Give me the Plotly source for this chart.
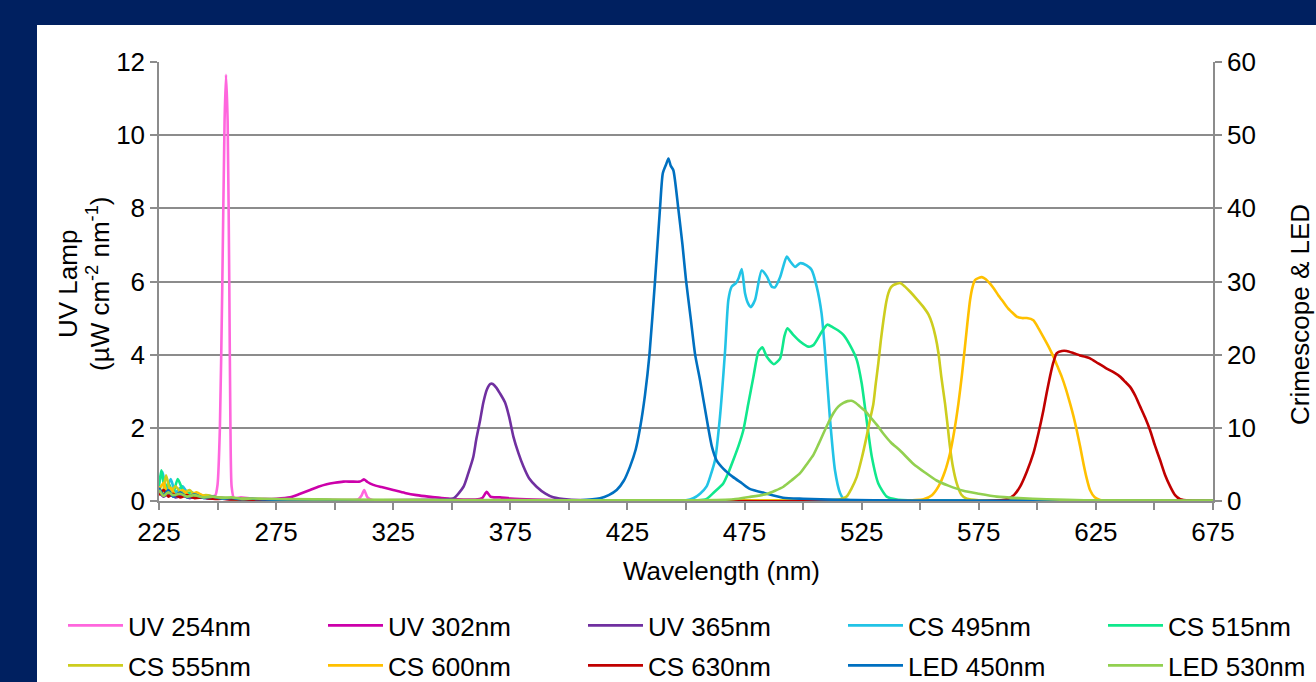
import plotly.graph_objects as go

# ---------------- data ----------------
# UV lamps (left axis, µW cm-2 nm-1)
uv254_wl = [225, 227, 229, 231, 234, 237, 240, 243, 246, 249, 250, 251, 252, 253, 253.6, 254.3, 255, 255.5, 256, 257,
            260, 265, 270, 280, 300, 310, 311.5, 312.6, 314, 316, 330, 360, 400, 675]
uv254_val = [0.35, 0.2, 0.3, 0.15, 0.22, 0.12, 0.18, 0.1, 0.12, 0.15, 0.45, 2.0, 5.8, 10.4, 11.65, 10.4, 6.0, 2.0, 0.4, 0.08,
             0.1, 0.06, 0.05, 0.03, 0.03, 0.04, 0.15, 0.3, 0.1, 0.03, 0.02, 0.02, 0.01, 0.0]

uv302_wl = [225, 227, 229, 232, 235, 238, 242, 246, 250, 255, 260, 265, 270, 275, 281, 285, 289.5, 293, 296.6, 300,
            303.7, 307, 310.8, 312.6, 314, 316.5, 320, 325, 330, 335, 340, 345, 350.7, 355, 360, 363, 364.9, 366.5,
            368, 370.6, 375, 385, 400, 450, 675]
uv302_val = [0.3, 0.15, 0.25, 0.12, 0.18, 0.1, 0.14, 0.08, 0.1, 0.06, 0.07, 0.05, 0.05, 0.06, 0.1, 0.19, 0.3, 0.39, 0.46, 0.5,
             0.53, 0.53, 0.53, 0.59, 0.52, 0.44, 0.38, 0.3, 0.22, 0.16, 0.12, 0.09, 0.05, 0.04, 0.04, 0.08, 0.25, 0.12,
             0.1, 0.1, 0.07, 0.04, 0.02, 0.01, 0.0]

uv365_wl = [225, 227, 229, 232, 235, 238, 242, 246, 250, 255, 260, 270, 290, 320, 340, 345, 350.7, 355, 357, 359.2,
            360.5, 362.1, 363.5, 365, 366.5, 367.5, 369, 370.5, 372.7, 374.5, 376.3, 378.5, 380.6, 383, 386.2, 390,
            393.3, 400, 420, 675]
uv365_val = [0.25, 0.12, 0.2, 0.1, 0.15, 0.08, 0.12, 0.06, 0.08, 0.05, 0.05, 0.03, 0.02, 0.02, 0.03, 0.04, 0.07, 0.39, 0.75, 1.21,
             1.7, 2.21, 2.7, 3.05, 3.2, 3.2, 3.1, 2.95, 2.7, 2.3, 1.76, 1.3, 0.94, 0.62, 0.39, 0.2,
             0.1, 0.04, 0.01, 0.0]

# Crimescope & LED (right axis, µW cm-2 nm-1)
cs495_wl = [225, 226.5, 228, 230, 232, 235, 238, 241, 245, 250, 255, 260, 270, 300, 400, 450, 453.1, 456, 458.8, 460.5,
            462.4, 464.5, 466.7, 468.1, 469.5, 471.4, 472.4, 473.8, 475.2, 476.5, 477.7, 479.5, 482.3, 484.5, 486.6,
            488, 490.2, 493, 494.4, 496.6, 498.7, 501.5, 503.6, 505.8, 507.9, 509.4, 511.5, 513.6, 515.8, 517.2, 520, 675]
cs495_val = [2.5, 4.0, 1.5, 3.0, 1.2, 2.0, 0.8, 1.0, 0.6, 0.5, 0.4, 0.3, 0.2, 0.1, 0.1, 0.1, 0.37, 1.0, 2.0, 3.5,
             5.6, 11.5, 20.6, 27.5, 29.3, 29.8, 30.4, 31.7, 28.4, 27.0, 26.5, 27.5, 31.5, 30.7, 29.3,
             29.2, 30.6, 33.4, 32.8, 32.0, 32.5, 32.2, 31.6, 29.3, 25.6, 20.2, 11.1, 4.2, 1.05, 0.35, 0.1, 0.0]

cs515_wl = [225, 226, 227.5, 229, 231, 233, 236, 239, 242, 246, 250, 255, 260, 270, 300, 400, 455, 458.8, 462, 465.9,
            468, 470.2, 472.5, 474.5, 476.6, 478.8, 480.9, 482.6, 484.5, 487.5, 490.2, 492, 493.3, 495.8, 498.7,
            502.2, 504.4, 507.9, 510.3, 512.9, 515, 517.2, 520, 522.9, 525, 527.1, 529.3, 532.1, 535.7, 540, 550, 675]
cs515_val = [2.0, 4.2, 1.5, 2.5, 1.0, 3.0, 1.0, 1.2, 0.6, 0.7, 0.4, 0.3, 0.2, 0.15, 0.1, 0.1, 0.1, 0.3, 1.2, 2.4,
             3.8, 5.6, 7.6, 9.7, 13.3, 17.0, 20.4, 21.0, 19.7, 18.7, 19.5, 22.5, 23.6, 22.7, 21.8,
             21.1, 21.3, 23.1, 24.1, 23.7, 23.3, 22.7, 21.3, 19.3, 16.1, 11.1, 6.1, 2.4, 0.6, 0.2, 0.05, 0.0]

cs555_wl = [225, 226.5, 228, 230, 232, 235, 238, 241, 245, 250, 255, 260, 270, 300, 400, 510, 515.8, 518.6, 520.5, 522.9,
            525, 527.1, 528.5, 530, 531, 532.1, 533.2, 534.3, 535.5, 536.4, 537.5, 538.5, 540, 541.4, 543.5, 545.7,
            548.5, 551.4, 553.5, 555, 556.5, 557.8, 559, 560.6, 561.7, 562.7, 564, 565.6, 567.5, 569.9, 575, 675]
cs555_val = [2.0, 1.0, 3.5, 1.2, 2.0, 1.0, 1.5, 0.6, 0.8, 0.5, 0.4, 0.3, 0.2, 0.1, 0.1, 0.1, 0.25, 0.6, 1.6, 3.3,
             5.8, 8.8, 11.0, 13.3, 16.0, 18.8, 22.0, 24.7, 27.2, 28.4, 29.2, 29.5, 29.7, 29.8, 29.3, 28.6,
             27.6, 26.5, 25.5, 24.3, 22.5, 20.2, 17.0, 13.3, 10.3, 7.4, 4.6, 2.4, 0.9, 0.3, 0.1, 0.0]

cs600_wl = [225, 227, 228.5, 230, 232, 235, 238, 241, 245, 250, 255, 260, 270, 300, 400, 540, 551.4, 555, 557.8, 560.5,
            562.7, 564.5, 566.3, 567.8, 569.1, 570.2, 571.3, 572.3, 573.4, 575, 576.3, 578, 579.8, 581.5, 583.4,
            585.5, 587.6, 589.5, 591.2, 593.5, 595.5, 598.3, 600.5, 602.6, 604.8, 606.9, 608.6, 610.4, 612.2, 614,
            615.5, 616.8, 618.3, 619.7, 621, 622.5, 624.5, 626.8, 632, 675]
cs600_val = [1.5, 2.5, 1.0, 1.8, 0.8, 1.5, 0.7, 1.2, 0.5, 0.4, 0.3, 0.25, 0.2, 0.1, 0.1, 0.05, 0.25, 0.8, 2.0, 4.0,
             6.5, 9.5, 13.3, 17.2, 21.1, 24.5, 27.5, 29.2, 30.2, 30.5, 30.6, 30.3, 29.7, 29.0, 28.1,
             27.2, 26.3, 25.7, 25.2, 25.0, 25.0, 24.7, 23.6, 22.4, 21.1, 19.7, 18.4, 17.0, 15.3, 13.3,
             11.5, 9.7, 7.4, 5.1, 3.2, 1.5, 0.5, 0.15, 0.05, 0.0]

cs630_wl = [225, 227, 229, 231, 234, 237, 240, 244, 248, 252, 256, 260, 270, 300, 400, 580, 587, 590, 592.7, 595.5,
            598.3, 600.5, 602.6, 604, 605.4, 606.8, 608.3, 610.5, 612.5, 615.5, 618.2, 620.5, 622.5, 626, 629.6,
            632.5, 635.3, 637.5, 639.6, 641.8, 643.9, 646, 648.1, 650.2, 652.4, 654.5, 656.7, 658.8, 661, 665, 675]
cs630_val = [0.8, 1.5, 0.6, 1.0, 0.5, 0.8, 0.4, 0.5, 0.3, 0.3, 0.2, 0.2, 0.15, 0.1, 0.05, 0.02, 0.25, 0.8, 2.0, 4.0,
             6.5, 9.3, 12.4, 14.8, 17.0, 18.9, 20.2, 20.5, 20.5, 20.2, 19.9, 19.7, 19.5, 18.8, 18.1,
             17.6, 17.0, 16.3, 15.6, 14.4, 12.9, 11.4, 9.7, 7.6, 5.6, 3.6, 2.0, 0.8, 0.25, 0.05, 0.0]

led450_wl = [225, 227, 229, 231, 234, 237, 240, 244, 248, 252, 256, 260, 265, 270, 280, 300, 350, 390, 404.8, 413.3,
             417, 420.4, 423.5, 426.1, 428.5, 430.4, 432.5, 434.4, 436.8, 438.9, 440.1, 441.5, 442.5, 443.5, 444.6,
             446.7, 448.5, 450, 452, 453.9, 456, 459.5, 461, 463, 466, 470, 474, 477, 484.5, 491.4, 500, 515,
             530, 560, 675]
led450_val = [1.8, 0.8, 1.5, 0.6, 1.2, 0.5, 0.9, 0.4, 0.6, 0.3, 0.4, 0.25, 0.3, 0.2, 0.15, 0.1, 0.1, 0.1, 0.1, 0.37,
              0.8, 1.5, 2.8, 4.7, 7.0, 10.0, 14.5, 20.0, 30.2, 40.0, 44.8, 46.0, 46.8, 45.8, 45.2,
              40.0, 35.0, 30.2, 25.0, 20.0, 16.5, 10.0, 7.5, 5.6, 4.4, 3.3, 2.4, 1.7, 1.0, 0.45, 0.3, 0.15,
              0.1, 0.05, 0.0]

led530_wl = [225, 227, 229, 231, 234, 237, 240, 244, 248, 252, 256, 260, 265, 270, 280, 300, 400, 455, 470.2, 477,
             484.5, 488, 491.6, 495, 498.7, 501.5, 504.4, 506.5, 508.6, 510.8, 512.9, 515, 517.2, 519, 520.7, 522.5,
             524.3, 526.5, 528.6, 531.5, 534.3, 537.5, 541.4, 547, 552, 557, 562, 568.4, 575, 582.7, 592, 604, 620, 675]
led530_val = [1.5, 0.7, 1.2, 0.8, 1.0, 0.6, 0.8, 0.5, 0.6, 0.4, 0.5, 0.3, 0.35, 0.3, 0.25, 0.2, 0.1, 0.1, 0.23, 0.55,
              0.96, 1.4, 1.95, 2.8, 3.8, 5.0, 6.3, 7.7, 9.2, 10.7, 12.0, 12.9, 13.4, 13.65, 13.7, 13.4,
              12.9, 12.3, 11.5, 10.4, 9.2, 8.0, 6.9, 5.1, 3.9, 2.8, 2.1, 1.4, 1.0, 0.6, 0.4, 0.23, 0.1, 0.05]

x_tickvals = [225, 275, 325, 375, 425, 475, 525, 575, 625, 675]
x_ticktext = ["225", "275", "325", "375", "425", "475", "525", "575", "625", "675"]

series_names = ["UV 254nm", "UV 302nm", "UV 365nm", "CS 495nm", "CS 515nm",
                "CS 555nm", "CS 600nm", "CS 630nm", "LED 450nm", "LED 530nm"]
series_wl = [uv254_wl, uv302_wl, uv365_wl, cs495_wl, cs515_wl, cs555_wl, cs600_wl, cs630_wl, led450_wl, led530_wl]
series_val = [uv254_val, uv302_val, uv365_val, cs495_val, cs515_val, cs555_val, cs600_val, cs630_val, led450_val, led530_val]
series_axis = ["y", "y", "y", "y2", "y2", "y2", "y2", "y2", "y2", "y2"]
series_color = ["#FF66DD", "#CC00AA", "#7030A0", "#22C3E6", "#10E88C",
                "#CDCD1E", "#FFC000", "#C00000", "#0070C0", "#92D050"]

# ---------------- figure ----------------
W, H = 1316, 682
L, R, T, B = 159, 103, 62, 181
PW, PH = W - L - R, H - T - B


def px_x(px):
    return (px - L) / PW


def px_y(py):
    return (H - B - py) / PH


FONT = "Liberation Sans, Arial, sans-serif"
GRID = "#8C8C8C"

fig = go.Figure()
legend_layouts = {}
for i, (name, wl, val, yax, color) in enumerate(zip(series_names, series_wl, series_val, series_axis, series_color)):
    leg = "legend" if i == 0 else f"legend{i + 1}"
    fig.add_trace(go.Scatter(
        x=wl, y=val, name=name, mode="lines", yaxis=yax, legend=leg,
        line=dict(color=color, width=2.6, shape="spline", smoothing=0.6),
    ))
    col, row = i % 5, i // 5
    legend_layouts[leg] = dict(
        xref="container", yref="container",
        x=(63 + 260 * col) / W, y=1 - (602 + 40 * row) / H,
        xanchor="left", yanchor="top", orientation="h", itemwidth=55,
        font=dict(size=26, family=FONT, color="black"), bgcolor="rgba(0,0,0,0)",
        itemclick=False, itemdoubleclick=False,
    )

fig.update_layout(
    width=W, height=H,
    margin=dict(l=L, r=R, t=T, b=B, autoexpand=False),
    paper_bgcolor="#002060",
    plot_bgcolor="white",
    font=dict(family=FONT, size=26, color="black"),
    showlegend=True,
    xaxis=dict(
        range=[225, 675], tickmode="array", tickvals=x_tickvals, ticktext=x_ticktext,
        ticks="outside", ticklen=7, tickwidth=1.5, tickcolor=GRID,
        minor=dict(tick0=225, dtick=25, ticks="outside", ticklen=7, tickwidth=1.5, tickcolor=GRID, showgrid=False),
        showline=True, linecolor=GRID, linewidth=1.5, showgrid=False, zeroline=False,
        tickfont=dict(size=26, family=FONT, color="black"),
    ),
    yaxis=dict(
        range=[0, 12], dtick=2, tick0=0,
        ticks="outside", ticklen=7, tickwidth=1.5, tickcolor=GRID,
        showline=True, linecolor=GRID, linewidth=1.5,
        showgrid=True, gridcolor=GRID, gridwidth=1.5, zeroline=False,
        tickfont=dict(size=26, family=FONT, color="black"),
    ),
    yaxis2=dict(
        range=[0, 60], dtick=10, tick0=0, overlaying="y", side="right",
        ticks="outside", ticklen=7, tickwidth=1.5, tickcolor=GRID,
        showline=True, linecolor=GRID, linewidth=1.5,
        showgrid=False, zeroline=False,
        tickfont=dict(size=26, family=FONT, color="black"),
    ),
    shapes=[dict(
        type="rect", xref="paper", yref="paper", layer="below",
        x0=px_x(37), x1=px_x(W + 20), y0=px_y(H + 20), y1=px_y(25),
        fillcolor="white", line=dict(width=0),
    )],
    annotations=[
        dict(text="Wavelength (nm)", xref="paper", yref="paper", x=px_x(721), y=px_y(571),
             xanchor="center", yanchor="middle", showarrow=False, font=dict(size=26)),
        dict(text="UV Lamp", xref="paper", yref="paper", x=px_x(68), y=px_y(284),
             xanchor="center", yanchor="middle", showarrow=False, textangle=-90, font=dict(size=26)),
        dict(text="(µW cm<sup>-2</sup> nm<sup>-1</sup>)", xref="paper", yref="paper", x=px_x(98), y=px_y(284),
             xanchor="center", yanchor="middle", showarrow=False, textangle=-90, font=dict(size=26)),
        dict(text="Crimescope &amp; LED", xref="paper", yref="paper", x=px_x(1300), y=px_y(315),
             xanchor="center", yanchor="middle", showarrow=False, textangle=-90, font=dict(size=26)),
        dict(text="(µW cm<sup>-2</sup> nm<sup>-1</sup>)", xref="paper", yref="paper", x=px_x(1331), y=px_y(315),
             xanchor="center", yanchor="middle", showarrow=False, textangle=-90, font=dict(size=26)),
    ],
    **legend_layouts,
)

fig.write_html("out.html", config={"displayModeBar": False},
               post_script="document.body.style.margin='0';document.body.style.overflow='hidden';")
